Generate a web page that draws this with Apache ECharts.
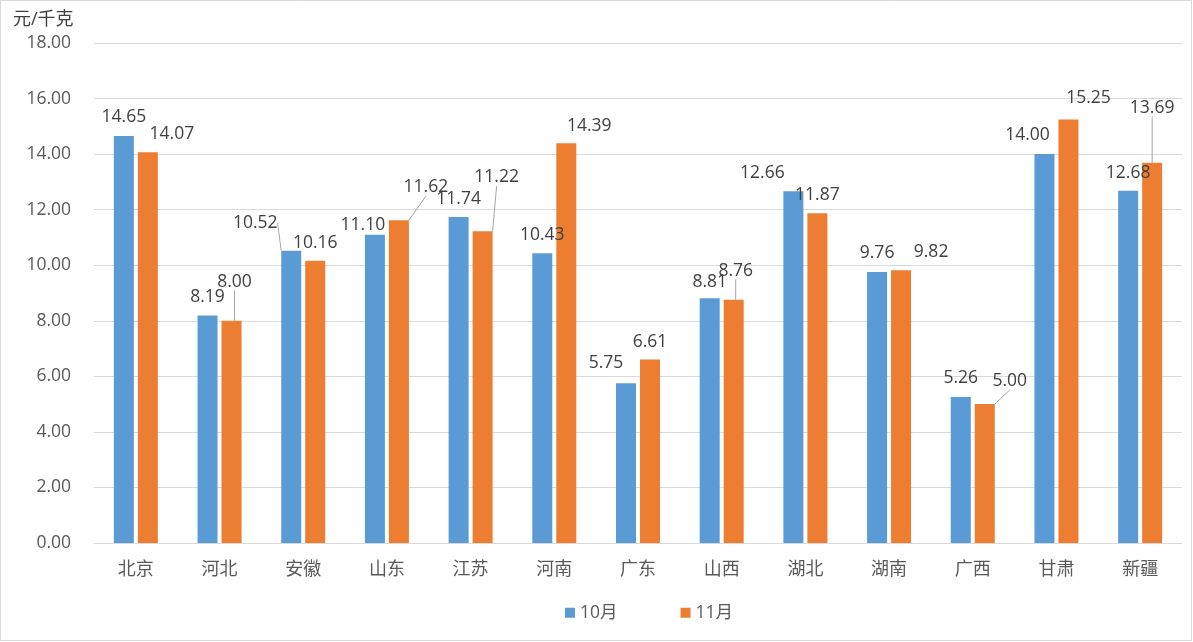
<!DOCTYPE html>
<html>
<head>
<meta charset="utf-8">
<script src="https://cdn.jsdelivr.net/npm/echarts@6/dist/echarts.min.js"></script>
<style>
html,body{margin:0;padding:0;background:#fff;}
#chart{width:1193px;height:642px;}
</style>
</head>
<body>
<div id="chart"></div>
<script>
// ---- data ----
var categories = ['北京','河北','安徽','山东','江苏','河南','广东','山西','湖北','湖南','广西','甘肃','新疆'];
var seriesNames = ['10月','11月'];
var octValues = [14.65, 8.19, 10.52, 11.10, 11.74, 10.43, 5.75, 8.81, 12.66, 9.76, 5.26, 14.00, 12.68];
var novValues = [14.07, 8.00, 10.16, 11.62, 11.22, 14.39, 6.61, 8.76, 11.87, 9.82, 5.00, 15.25, 13.69];
var yTicks = { min: 0, max: 18, interval: 2 };
var unitLabel = '元/千克';

// ---- label placement (layout only): [dx from bar centre, dy from bar top] ----
var octLabelPos = [[0,-19],[0,-18],[-36,-28],[-12,-10],[0,-18],[0,-18],[-20,-20],[0,-16],[-31,-18],[0,-19],[0,-19],[-17,-19],[0,-18]];
var novLabelPos = [[24,-18],[3,-39],[0,-18],[27,-33],[14,-54],[23,-17],[0,-17],[2,-29],[0,-18],[30,-18],[25,-23],[20,-21],[0,-55]];
var octLeader = [2];
var novLeader = [1,3,4,7,10,12];

var colors = ['#5B9BD5', '#ED7D31'];
var txt = '#404040';
var axisTxt = '#595959';
var ff = '"Open Sans","Noto Sans CJK SC",sans-serif';
var numSize = 17.5;

function buildData(vals, leaders) {
  return vals.map(function (v, i) {
    var d = { value: v };
    if (leaders.indexOf(i) >= 0) {
      d.labelLine = { show: true, lineStyle: { color: '#A6A6A6', width: 1 } };
    }
    return d;
  });
}

function layoutFor(posArr) {
  return function (p) {
    var off = posArr[p.dataIndex];
    return {
      x: p.rect.x + p.rect.width / 2 + off[0],
      y: p.rect.y + off[1],
      align: 'center',
      verticalAlign: 'middle'
    };
  };
}

var chart = echarts.init(document.getElementById('chart'), null, { renderer: 'canvas' });
var labelCfg = {
  show: true,
  position: 'top',
  distance: 0,
  color: txt,
  fontSize: numSize,
  fontFamily: ff,
  formatter: function (p) { return p.value.toFixed(2); }
};

chart.setOption({
  animation: false,
  backgroundColor: '#fff',
  color: colors,
  title: {
    text: unitLabel,
    left: 8, top: 6,
    textStyle: { fontSize: 18, fontWeight: 'normal', color: txt, fontFamily: ff }
  },
  graphic: [{
    type: 'rect',
    shape: { x: 0.5, y: 0.5, width: 1191, height: 640 },
    style: { fill: null, stroke: '#D9D9D9', lineWidth: 1 },
    silent: true, z: -1
  }],
  grid: { left: 94, right: 11, top: 43, bottom: 99, containLabel: false },
  legend: {
    left: 560, top: 599,
    itemWidth: 10, itemHeight: 10, itemGap: 63,
    icon: 'rect',
    textStyle: { fontSize: numSize, color: axisTxt, fontFamily: ff },
    data: seriesNames
  },
  xAxis: {
    type: 'category',
    data: categories,
    axisLine: { lineStyle: { color: '#D9D9D9' } },
    axisTick: { show: false },
    axisLabel: { fontSize: 18, color: axisTxt, margin: 16, fontFamily: '"Noto Sans CJK SC",sans-serif' }
  },
  yAxis: {
    type: 'value',
    min: yTicks.min, max: yTicks.max, interval: yTicks.interval,
    axisLine: { show: false },
    axisTick: { show: false },
    splitLine: { lineStyle: { color: '#D9D9D9' } },
    axisLabel: {
      fontSize: numSize, color: axisTxt, margin: 23, fontFamily: ff,
      formatter: function (v) { return v.toFixed(2); }
    }
  },
  series: [
    {
      name: seriesNames[0], type: 'bar',
      data: buildData(octValues, octLeader),
      barWidth: 20, barGap: '20%',
      itemStyle: { color: colors[0] },
      label: labelCfg,
      labelLayout: layoutFor(octLabelPos)
    },
    {
      name: seriesNames[1], type: 'bar',
      data: buildData(novValues, novLeader),
      barWidth: 20, barGap: '20%',
      itemStyle: { color: colors[1] },
      label: labelCfg,
      labelLayout: layoutFor(novLabelPos)
    }
  ]
});
</script>
</body>
</html>
